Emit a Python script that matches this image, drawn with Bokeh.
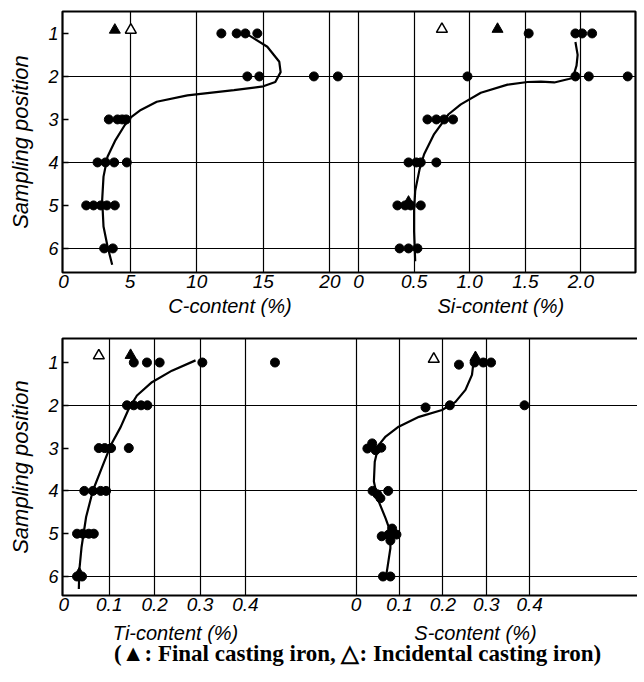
from bokeh.plotting import figure
from bokeh.models import Range1d, FixedTicker, Grid
from bokeh.layouts import column
from bokeh.core.properties import value
from bokeh.embed import file_html
from bokeh.resources import INLINE

# ---------------- data ----------------
positions = [1, 2, 3, 4, 5, 6]
position_labels = ["1", "2", "3", "4", "5", "6"]

# C-content (%)
c_pos = [1, 1, 1, 1, 2, 2, 2, 2, 3, 3, 3, 3, 4, 4, 4, 4, 5, 5, 5, 5, 5, 6, 6]
c_val = [11.85, 13.0, 13.65, 14.55, 13.8, 14.7, 18.8, 20.6, 3.4, 4.05, 4.4, 4.7,
         2.55, 3.15, 3.8, 4.75, 1.7, 2.25, 2.8, 3.25, 3.85, 3.05, 3.7]
c_final_val, c_final_pos = [3.85], [0.92]
c_incid_val, c_incid_pos = [5.05], [0.92]
c_curve_val = [13.9, 15.3, 16.2, 16.3, 15.9, 15.0, 12.8, 9.3, 7.0, 5.8, 5.1, 4.6,
               3.9, 3.3, 3.0, 2.9, 3.0, 3.3, 3.65]
c_curve_pos = [1.04, 1.31, 1.66, 1.90, 2.13, 2.23, 2.32, 2.44, 2.59, 2.78, 2.94,
               3.13, 3.48, 3.87, 4.33, 4.87, 5.49, 5.95, 6.38]
c_ticks = [0, 5, 10, 15, 20]
c_tick_labels = ["0", "5", "10", "15", "20"]
c_grid = [5, 10, 15, 20]

# Si-content (%)
si_pos = [1, 1, 1, 1, 2, 2, 2, 2, 3, 3, 3, 3, 4, 4, 4, 4, 5, 5, 5, 5, 6, 6, 6]
si_val = [1.53, 1.95, 2.01, 2.10, 0.98, 1.95, 2.07, 2.42, 0.62, 0.70, 0.77, 0.85,
          0.45, 0.52, 0.56, 0.70, 0.35, 0.42, 0.47, 0.56, 0.37, 0.45, 0.53]
si_final_val, si_final_pos = [1.25, 0.45], [0.9, 4.92]
si_incid_val, si_incid_pos = [0.75], [0.9]
si_curve_val = [1.95, 1.89, 1.76, 1.64, 1.52, 1.34, 1.10, 0.92, 0.81, 0.68, 0.59,
                0.55, 0.51, 0.50, 0.50, 0.51]
si_curve_pos = [2.02, 2.06, 2.14, 2.12, 2.13, 2.19, 2.38, 2.65, 2.88, 3.34, 3.81,
                4.15, 4.66, 5.12, 5.60, 6.30]
si_curve2_val = [1.95, 1.97, 1.96, 1.94]
si_curve2_pos = [1.2, 1.5, 1.75, 1.92]
si_ticks = [0, 0.5, 1.0, 1.5, 2.0]
si_tick_labels = ["0", "0.5", "1.0", "1.5", "2.0"]

# Ti-content (%)
ti_pos = [1, 1, 1, 1, 1, 2, 2, 2, 2, 3, 3, 3, 3, 4, 4, 4, 4, 5, 5, 5, 5, 6, 6]
ti_val = [0.154, 0.183, 0.211, 0.305, 0.465, 0.139, 0.154, 0.170, 0.184,
          0.077, 0.090, 0.104, 0.143, 0.045, 0.064, 0.081, 0.093,
          0.029, 0.042, 0.055, 0.066, 0.029, 0.040]
ti_final_val, ti_final_pos = [0.147, 0.034], [0.83, 5.93]
ti_incid_val, ti_incid_pos = [0.077], [0.84]
ti_curve_val = [0.290, 0.238, 0.194, 0.161, 0.143, 0.125, 0.103, 0.084, 0.064,
                0.049, 0.039, 0.034, 0.033]
ti_curve_pos = [0.95, 1.19, 1.46, 1.77, 2.08, 2.51, 2.94, 3.45, 3.99, 4.61,
                5.31, 5.86, 6.29]
ti_ticks = [0, 0.1, 0.2, 0.3, 0.4]
ti_tick_labels = ["0", "0.1", "0.2", "0.3", "0.4"]

# S-content (%)
s_pos = [1.05, 1.0, 1.0, 1.0, 2.05, 2.0, 2.0, 3.01, 2.89, 3.05, 2.99,
         4.0, 4.08, 4.17, 4.0, 5.06, 5.02, 4.88, 5.02, 5.16, 6.0, 6.0]
s_val = [0.237, 0.273, 0.293, 0.311, 0.160, 0.216, 0.388, 0.026, 0.037, 0.045, 0.058,
         0.038, 0.049, 0.056, 0.074, 0.059, 0.075, 0.083, 0.093, 0.079, 0.062, 0.079]
s_final_val, s_final_pos = [0.275], [0.88]
s_incid_val, s_incid_pos = [0.179], [0.92]
s_curve_val = [0.271, 0.267, 0.252, 0.229, 0.198, 0.145, 0.098, 0.068, 0.052, 0.043,
               0.041, 0.049, 0.068, 0.079, 0.079, 0.072, 0.068]
s_curve_pos = [0.95, 1.29, 1.64, 1.92, 2.11, 2.27, 2.50, 2.73, 2.93, 3.32, 3.78,
               4.17, 4.64, 4.95, 5.34, 5.81, 6.05]
s_ticks = [0, 0.1, 0.2, 0.3, 0.4]
s_tick_labels = ["0", "0.1", "0.2", "0.3", "0.4"]

top_titles = ["C-content (%)", "Si-content (%)"]
bottom_titles = ["Ti-content (%)", "S-content (%)"]
caption = "(\u25b2: Final casting iron, \u25b3: Incidental casting iron)"

# ---------------- styling ----------------
SANS = "Liberation Sans"
SERIF = "Liberation Serif"
DOT = 9
TRI = 11


def build(left_range, right_range, y_range, fw, fh, bl, bt, bb, br,
          lt, ltl, lgrid, rt, rtl, rgrid):
    xr = Range1d(*left_range)
    rr = Range1d(*right_range)
    p = figure(frame_width=fw, frame_height=fh,
               x_range=xr, y_range=Range1d(*y_range),
               output_backend="svg", toolbar_location=None, tools="",
               min_border_left=bl, min_border_top=bt, min_border_bottom=bb,
               min_border_right=br, background_fill_color="white",
               border_fill_color="white")
    p.extra_x_ranges = {"r": rr}
    L0, L1 = left_range
    R0, R1 = right_range

    def to_left(v):
        return L0 + (v - R0) * (L1 - L0) / (R1 - R0)

    tick_pos = [float(t) for t in lt] + [to_left(v) for v in rt]
    tick_lab = ltl + rtl
    p.xaxis.ticker = FixedTicker(ticks=tick_pos)
    p.xaxis.major_label_overrides = {tp: tl for tp, tl in zip(tick_pos, tick_lab)}
    p.xaxis.major_tick_line_color = None
    p.xaxis.minor_tick_line_color = None
    p.xaxis.axis_line_color = None
    p.xaxis.major_label_text_font = SANS
    p.xaxis.major_label_text_font_style = "italic"
    p.xaxis.major_label_text_font_size = "19px"
    p.xaxis.major_label_text_color = "black"
    p.xaxis.major_label_standoff = -4

    p.yaxis.ticker = FixedTicker(ticks=positions)
    p.yaxis.major_label_overrides = {t: l for t, l in zip(positions, position_labels)}
    p.yaxis.major_tick_in = 6
    p.yaxis.major_tick_out = 0
    p.yaxis.major_tick_line_color = "black"
    p.yaxis.major_tick_line_width = 1.5
    p.yaxis.minor_tick_line_color = None
    p.yaxis.axis_line_color = None
    p.yaxis.major_label_text_font = SANS
    p.yaxis.major_label_text_font_style = "italic"
    p.yaxis.major_label_text_font_size = "18px"
    p.yaxis.major_label_text_color = "black"
    p.yaxis.major_label_standoff = 4
    p.yaxis.axis_label = "Sampling position"
    p.yaxis.axis_label_text_font = SANS
    p.yaxis.axis_label_text_font_style = "italic"
    p.yaxis.axis_label_text_font_size = "22px"
    p.yaxis.axis_label_text_color = "black"
    p.yaxis.axis_label_standoff = 12

    p.xgrid.visible = False
    p.ygrid.ticker = FixedTicker(ticks=[2, 4, 6])
    p.ygrid.grid_line_color = "black"
    p.ygrid.grid_line_width = 1.2
    p.ygrid.grid_line_alpha = 1.0
    p.add_layout(Grid(dimension=0, ticker=FixedTicker(ticks=lgrid),
                      grid_line_color="black", grid_line_width=1.2))
    p.add_layout(Grid(dimension=0, ticker=FixedTicker(ticks=rgrid), x_range_name="r",
                      grid_line_color="black", grid_line_width=1.2))

    p.outline_line_color = "black"
    p.outline_line_width = 2.2
    p.outline_line_alpha = 1.0
    return p


def text_fig(src, fw, fh, bl, br):
    t = figure(frame_width=fw, frame_height=fh, x_range=src.x_range,
               y_range=Range1d(0, fh), output_backend="svg",
               toolbar_location=None, tools="", min_border_left=bl,
               min_border_right=br, min_border_top=0, min_border_bottom=0,
               background_fill_color="white", border_fill_color="white",
               outline_line_color=None)
    t.extra_x_ranges = {"r": src.extra_x_ranges["r"]}
    t.axis.visible = False
    t.grid.visible = False
    return t


def panel(p, val, pos, fin_v, fin_p, inc_v, inc_p, curves, rname="default"):
    for cv, cp in curves:
        p.line(cv, cp, line_color="black", line_width=2.2, x_range_name=rname)
    p.scatter(val, pos, marker="circle", size=DOT, fill_color="black",
              line_color="black", x_range_name=rname)
    p.scatter(fin_v, fin_p, marker="triangle", size=TRI, fill_color="black",
              line_color="black", x_range_name=rname)
    p.scatter(inc_v, inc_p, marker="triangle", size=TRI, fill_color="white",
              line_color="black", line_width=1.5, x_range_name=rname)


def title_text(t, x, y, text, rname="default"):
    t.text(x=[x], y=[y], text=[text], x_range_name=rname,
           text_align="center", text_baseline="middle",
           text_font=value(SANS), text_font_style="italic",
           text_font_size="20px", text_color="black")


# ---------------- top figure: C and Si ----------------
top = build((-0.08, 42.95), (-2.66, 2.49), (6.56, 0.49), 573, 261, 62, 11, 24, 2,
            c_ticks, c_tick_labels, c_grid, si_ticks, si_tick_labels, si_ticks)
panel(top, c_val, c_pos, c_final_val, c_final_pos, c_incid_val, c_incid_pos,
      [(c_curve_val, c_curve_pos)])
panel(top, si_val, si_pos, si_final_val, si_final_pos, si_incid_val, si_incid_pos,
      [(si_curve_val, si_curve_pos), (si_curve2_val, si_curve2_pos)], rname="r")

top_t = text_fig(top, 573, 22, 62, 2)
title_text(top_t, 12.5, 13, top_titles[0])
title_text(top_t, 1.28, 13, top_titles[1], rname="r")

# ---------------- bottom figure: Ti and S ----------------
bot = build((-0.003, 1.2656), (-0.6765, 0.6507), (6.444, 0.439), 576, 257, 57, 20, 22, 4,
            ti_ticks, ti_tick_labels, ti_ticks[1:], s_ticks, s_tick_labels, s_ticks)
panel(bot, ti_val, ti_pos, ti_final_val, ti_final_pos, ti_incid_val, ti_incid_pos,
      [(ti_curve_val, ti_curve_pos)])
panel(bot, s_val, s_pos, s_final_val, s_final_pos, s_incid_val, s_incid_pos,
      [(s_curve_val, s_curve_pos)], rname="r")

bot_t = text_fig(bot, 576, 52, 57, 4)
title_text(bot_t, 0.246, 37, bottom_titles[0])
title_text(bot_t, 0.275, 37, bottom_titles[1], rname="r")
bot_t.text(x=[0.647], y=[16], text=[caption], text_align="center",
           text_baseline="middle", text_font=value(SERIF), text_font_style="bold",
           text_font_size="23px", text_color="black")

layout = column(top, top_t, bot, bot_t, spacing=0)
open("out.html", "w").write(file_html(layout, INLINE))
